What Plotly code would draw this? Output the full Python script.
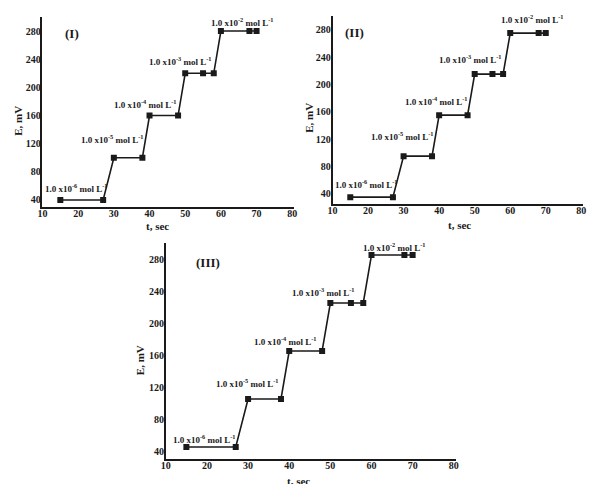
import plotly.graph_objects as go

# ---- data ----
t_sec = [15, 27, 30, 38, 40, 48, 50, 55, 58, 60, 68, 70]
E_I = [40, 40, 100, 100, 160, 160, 220, 220, 220, 280, 280, 280]
E_II = [35, 35, 95, 95, 155, 155, 215, 215, 215, 275, 275, 275]
E_III = [45, 45, 105, 105, 165, 165, 225, 225, 225, 285, 285, 285]
panel_labels = ["(I)", "(II)", "(III)"]
conc_labels = [
    "1.0 x10<sup>-6</sup> mol L<sup>-1</sup>",
    "1.0 x10<sup>-5</sup> mol L<sup>-1</sup>",
    "1.0 x10<sup>-4</sup> mol L<sup>-1</sup>",
    "1.0 x10<sup>-3</sup> mol L<sup>-1</sup>",
    "1.0 x10<sup>-2</sup> mol L<sup>-1</sup>",
]
x_ticks = [10, 20, 30, 40, 50, 60, 70, 80]
y_ticks = [40, 80, 120, 160, 200, 240, 280]

W, H = 592, 484
FONT = "Liberation Serif"
INK = "#1a1a1a"


def px(x, y):
    return x / W, 1 - y / H


fig = go.Figure()

panels = [
    # (E values, x-domain px, y-domain px (top,bottom), y range, suffix)
    (E_I, (38, 293), (17, 207), [30, 300], ""),
    (E_II, (332, 586), (16, 204), [25, 300], "2"),
    (E_III, (163, 457), (243, 459), [30, 300], "3"),
]

for E, (x0, x1), (yt, yb), yr, sfx in panels:
    fig.add_trace(go.Scatter(
        x=t_sec, y=E, mode="lines+markers",
        line=dict(color=INK, width=1.6),
        marker=dict(symbol="square", size=6, color=INK),
        xaxis="x" + sfx, yaxis="y" + sfx, showlegend=False,
    ))
    axcommon = dict(
        showgrid=False, zeroline=False, showline=True, linecolor=INK,
        linewidth=1.6, ticks="",
        tickfont=dict(family=FONT, size=10, color=INK, weight="bold"),
    )
    fig.layout["xaxis" + sfx] = dict(
        axcommon, domain=[x0 / W, x1 / W], range=[10, 80.5],
        tickvals=x_ticks, anchor="y" + sfx, ticklabelstandoff=-4,
    )
    fig.layout["yaxis" + sfx] = dict(
        axcommon, domain=[1 - yb / H, 1 - yt / H], range=yr,
        tickvals=y_ticks, anchor="x" + sfx, ticklabelstandoff=-2,
    )

annos = []
bold = lambda s: "<b>" + s + "</b>"

# panel labels
for lab, (x, y) in zip(panel_labels, [(68, 34), (354, 33), (206, 262)]):
    ax, ay = px(x, y)
    annos.append(dict(x=ax, y=ay, text=bold(lab), font=dict(size=13)))

# concentration labels
conc_pos = [
    [(72, 188), (109, 139), (142, 104), (178, 61), (241, 22)],
    [(366, 184), (403, 136), (437, 101), (472, 59), (535, 19)],
    [(202, 439), (246, 383), (284, 341), (323, 292), (395, 247)],
]
for positions in conc_pos:
    for lab, (x, y) in zip(conc_labels, positions):
        ax, ay = px(x, y)
        annos.append(dict(x=ax, y=ay, text=bold(lab), font=dict(size=9)))

# axis titles
for (x, y) in [(13, 121), (308, 118), (137, 360)]:
    ax, ay = px(x, y)
    annos.append(dict(x=ax, y=ay, text=bold("E, mV"), textangle=-90,
                      font=dict(size=11)))
for (x, y) in [(155, 226), (461, 225), (298, 481)]:
    ax, ay = px(x, y)
    annos.append(dict(x=ax, y=ay, text=bold("t, sec"), font=dict(size=11)))

for a in annos:
    a.update(xref="paper", yref="paper", showarrow=False,
             xanchor="center", yanchor="middle")
    a["font"].update(family=FONT, color=INK)

fig.update_layout(
    width=W, height=H, margin=dict(l=0, r=0, t=0, b=0),
    paper_bgcolor="white", plot_bgcolor="white",
    annotations=annos,
    font=dict(family=FONT, color=INK),
)

fig.write_html(
    "out.html",
    config={"displayModeBar": False},
    post_script="document.body.style.margin='0';document.body.style.overflow='hidden';",
)
